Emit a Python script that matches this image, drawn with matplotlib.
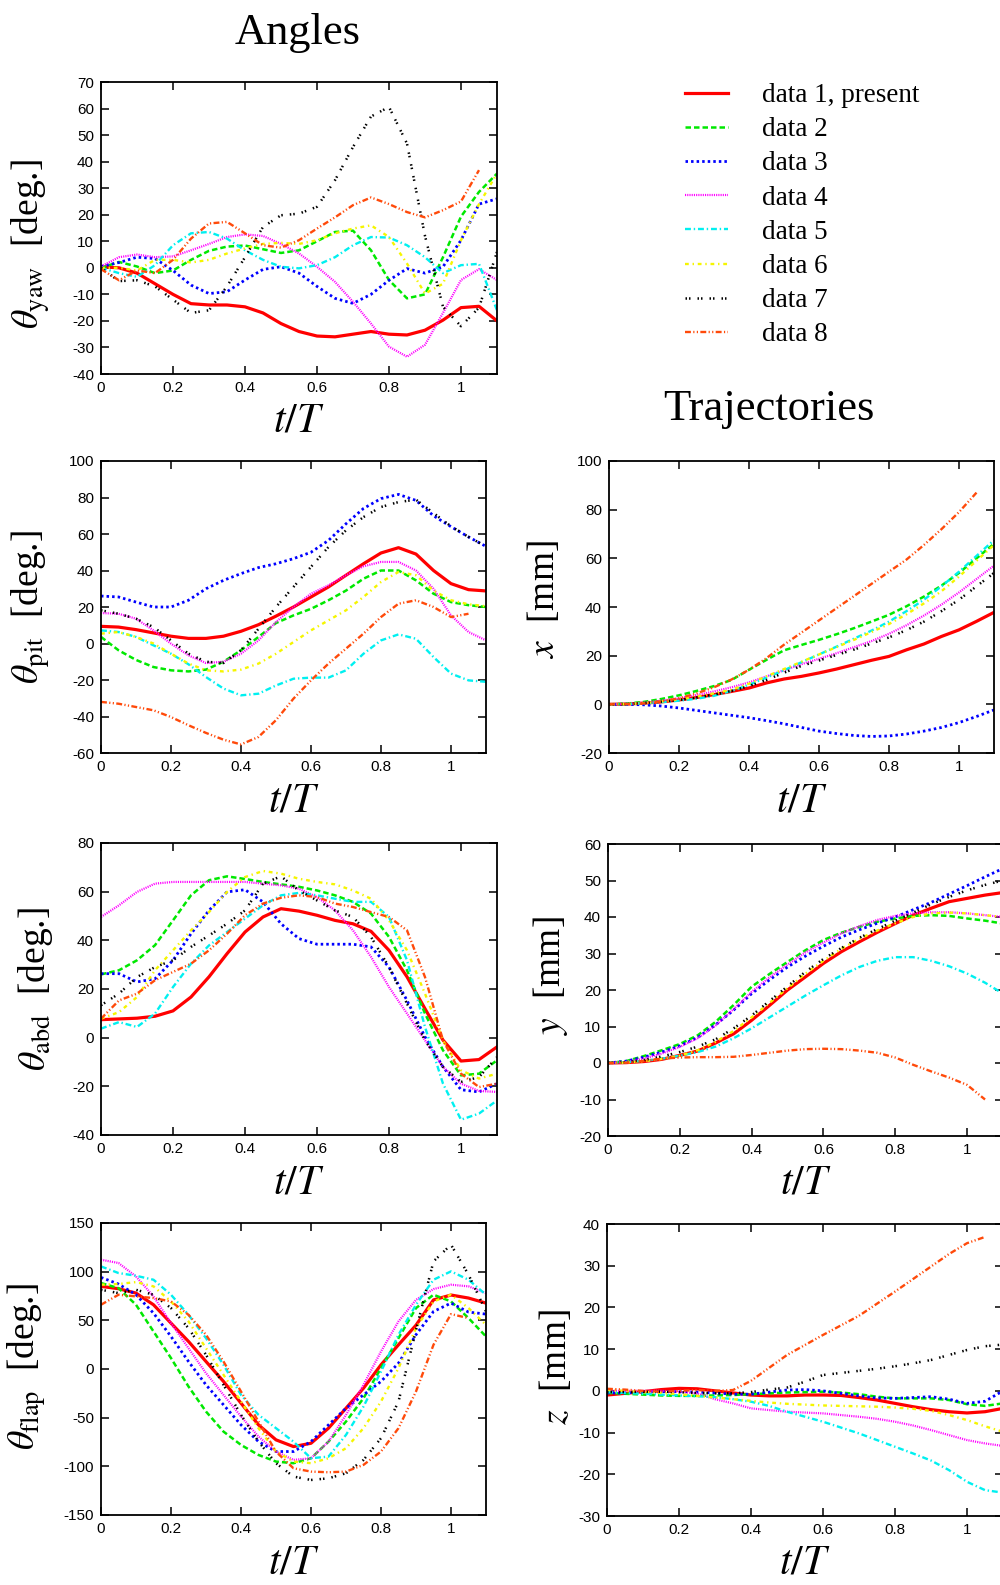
import matplotlib
matplotlib.use('Agg')
import matplotlib.pyplot as plt
from matplotlib.ticker import MultipleLocator, FuncFormatter

plt.rcParams['font.family'] = ['Liberation Sans', 'DejaVu Sans']
plt.rcParams['mathtext.fontset'] = 'stix'

# time axis t/T
t = [0, 0.05, 0.1, 0.15, 0.2, 0.25, 0.3, 0.35, 0.4, 0.45, 0.5, 0.55,
     0.6, 0.65, 0.7, 0.75, 0.8, 0.85, 0.9, 0.95, 1.0, 1.05, 1.1]

labels = ['data 1, present', 'data 2', 'data 3', 'data 4',
          'data 5', 'data 6', 'data 7', 'data 8']

# yaw angle [deg.]
yaw = [
    [0.4, 0, -2, -6, -10, -13.5, -14, -14, -14.7, -17, -21, -24, -25.7, -26, -25, -24, -25, -25.3, -23.5, -19.7, -15, -14.5, -20],
    [0, 2.2, 0.5, -2, -1, 3, 6.4, 8, 8.4, 7, 5.6, 6.6, 10, 13.5, 14, 6.6, -4.6, -11.5, -10, 4, 19.3, 28.6, 35.5],
    [0.5, 2, 4, 3.5, -1, -6.5, -9.7, -9, -4.6, -0.6, 0.4, -2, -7, -11.5, -13.4, -10, -4.7, -0.3, -2, 0.4, 10.4, 24, 26],
    [0.5, 4, 5, 4, 4.3, 6.6, 9, 11.6, 12.6, 12, 9, 5.4, 0.4, -5.3, -12.8, -21, -29.7, -33.5, -29, -17, -4.6, -0.5, -4.6],
    [0, -2, -3.4, 1, 8.5, 13, 13.5, 11, 6.6, 3, 0.4, -0.2, 1, 4, 8.5, 11.6, 11.4, 8.5, 4, -2, 1, 1.5, -16],
    [0, 0, -1, 3, 3, 2, 3, 5.4, 7.3, 9, 9.4, 9, 10.4, 13, 14.8, 16, 11.6, 1.6, -9.7, -6, 10.4, 24, 35.5],
    [0, -5, -4.7, -7, -12, -17, -16, -7, 4, 15.4, 19.8, 20.4, 23, 33, 45.5, 57, 60.6, 46.8, 12, -14.7, -22, -15, 6],
    [-0.5, -4.7, -1, -2, 3, 11, 16.7, 17.3, 13, 8.5, 7.6, 10.4, 14.8, 19, 23.6, 26.5, 24, 21, 19, 21.7, 25, 36.8],
]

# pitch angle [deg.]
pit = [
    [9.4, 9, 7.6, 5.8, 4, 2.8, 2.8, 4, 6.7, 10.3, 15, 20, 25.5, 31, 37.4, 43.7, 49.6, 52.5, 49, 40, 32.8, 29.5, 28.8],
    [3.6, -3.7, -9, -12.9, -14.7, -15.3, -14.3, -10, -3.7, 3.6, 11.2, 15.4, 19, 23.7, 29, 35.5, 40, 40, 34.6, 27.3, 22.7, 21, 20],
    [26, 25.5, 22.7, 20, 20, 23.7, 30, 34.6, 38.3, 41.6, 43.7, 46.5, 50, 56.5, 65.6, 74, 79.4, 81.7, 78.4, 70, 64, 58.4, 53.2],
    [16.7, 16.3, 13.6, 7.2, -0.1, -6.5, -10.7, -10, -5.6, 1.7, 11.8, 20, 27.3, 31.9, 37.4, 42.3, 44.7, 44.7, 40, 30, 15.4, 6.3, 1.7],
    [7.2, 6.3, 3.6, -1, -5.6, -11.4, -18.4, -24.7, -28.4, -27.5, -23, -19.3, -18.7, -18.7, -14.7, -5.6, 1.7, 5, 2.6, -7.4, -16.5, -20.2, -21],
    [5.4, 6.3, 3.6, 0, -5.6, -11, -14.7, -15.3, -14.3, -11, -5.6, 0.8, 7.2, 12.7, 18.2, 25.5, 33.7, 39.2, 37.4, 29, 23.7, 21.5, 20.4],
    [18.2, 16.3, 13.6, 9, 1.7, -5.6, -10, -10.7, -3.7, 8.1, 20, 31, 42, 52.9, 62, 69.3, 74.8, 77.5, 78.8, 71.5, 64.2, 58.4, 53.2],
    [-32, -33, -34.8, -36.6, -40.3, -44.8, -49, -52.7, -55.3, -51.2, -42, -30.2, -20.2, -11, -2.8, 5.4, 14.5, 21.8, 23.7, 20, 14.5, 16.3],
]

# abduction angle [deg.]
abd = [
    [7.4, 7.7, 8, 8.8, 11, 16.7, 25, 34.5, 43.4, 49.6, 53, 52, 50.3, 48.2, 46.8, 43.7, 35.9, 25, 11.9, -1, -9.6, -9, -3.8],
    [26, 27.7, 31.8, 38, 48.2, 58.5, 64.7, 66.3, 65.2, 64, 63, 62, 60.5, 58.5, 55.8, 51, 41.4, 27.7, 9.9, -5.2, -15.5, -14.8, -9.3],
    [26.3, 26.3, 22.9, 24.2, 31.8, 42.7, 52.3, 59.9, 60.8, 55.8, 46.8, 40.7, 38.4, 38.4, 38.4, 37.3, 29, 15.3, 0.3, -12, -21.4, -22.3, -18.9],
    [49.6, 54.4, 59.9, 63.3, 64, 64, 64, 64, 64, 63.3, 62.6, 61.2, 57.8, 52.3, 44.1, 33.2, 20.8, 9.9, -1.1, -12, -18.9, -21.9, -22.3],
    [3.7, 6.4, 4.4, 9.9, 20.8, 30.4, 37.9, 43.4, 48.9, 54.4, 58.5, 59.5, 58.5, 57.1, 55.8, 55.8, 49.6, 31.8, 4.4, -18.9, -33.7, -31.2, -25.8],
    [7.8, 10.5, 16.7, 27.7, 35.9, 44.1, 51.6, 59.9, 66, 68.5, 67.4, 65.3, 64, 63, 60.5, 57.1, 48.2, 35.9, 18.1, -1.1, -13.4, -16.8, -14.8],
    [13.3, 18.1, 24.9, 29, 31.8, 37.3, 42, 46.8, 52.3, 63.3, 66.3, 60.5, 56.4, 52.3, 49.6, 41.4, 29, 14, -1.1, -12, -18.2, -16.2, -8],
    [7.8, 15.3, 18.1, 23.6, 27, 30.4, 35.9, 42.7, 50.3, 55.1, 57.5, 58.5, 57.8, 55.1, 53.7, 51.6, 49.6, 44.1, 24.9, -1.1, -14.8, -20.3, -18.9],
]

# flapping angle [deg.]
flap = [
    [84.9, 82.5, 78, 66, 47.1, 28.3, 7.7, -12.8, -35.1, -57.4, -72.8, -79.7, -76.3, -60.8, -40.3, -19.7, 4.3, 24.9, 45, 71, 76, 72.9, 67.7],
    [88.3, 83.1, 66, 38.6, 11.2, -18, -43.7, -64.3, -78, -88.3, -95.1, -96.8, -91.7, -74.6, -54, -30, 0.9, 31.7, 62.6, 76.3, 69.4, 52.3, 33.4],
    [94.1, 87.3, 76.3, 57.4, 33.4, 7.7, -16.3, -36.8, -57.4, -74.6, -84.8, -84.8, -74.6, -57.4, -40.3, -26.6, -12.8, 6, 35.2, 59.1, 67.7, 58.5, 56.4],
    [112.3, 108.9, 95.1, 74.6, 47.1, 21.4, -4.3, -26.6, -48.8, -69.4, -84.8, -93.4, -91.7, -74.6, -47.1, -16.3, 18, 48.9, 71.1, 82.1, 86.6, 84.9, 78],
    [105.4, 98.6, 95.8, 91.7, 76.3, 55.7, 31.7, 4.3, -26.6, -47.1, -60.8, -74.6, -91.7, -90, -67.7, -38.6, -2.6, 35.2, 66, 91.7, 100.3, 91.7, 76.3],
    [86.6, 87.3, 89.3, 84.9, 69.4, 48.9, 21.4, -6, -33.4, -60.8, -84.8, -95.1, -96.8, -91.7, -81.4, -60.8, -33.4, 0.9, 42, 69.4, 76.3, 62.6, 45.4],
    [81.4, 78, 81.4, 76.3, 62.6, 42, 14.6, -16.3, -47.1, -74.6, -96.8, -110.5, -114, -112.3, -107.1, -93.4, -71.1, -33.4, 40, 110.6, 127.7, 96.9, 59.2],
    [66, 76.3, 74.6, 72.9, 69.4, 55.7, 35.2, 7.7, -23.1, -54, -85, -102, -105.4, -106.1, -105.4, -98.5, -84.8, -60.8, -23.1, 24.9, 56.4, 52.3],
]

# trajectories [mm]
traj_x = [
    [0, 0.1, 0.5, 1, 1.8, 2.8, 4, 5.3, 6.7, 8.8, 10.4, 11.5, 12.9, 14.5, 16.3, 18.1, 19.7, 22.4, 24.8, 27.9, 30.6, 34.1, 37.8],
    [0, 0.3, 1, 2.2, 3.7, 5.5, 7.5, 10, 14.2, 18.3, 22.2, 24.4, 26.5, 28.8, 31.3, 34, 36.8, 40.3, 44.3, 48.8, 54, 60, 66],
    [0, 0, -0.2, -0.7, -1.5, -2.5, -3.5, -4.5, -5.5, -6.7, -8, -9.5, -11, -12, -12.8, -13.2, -13, -12.2, -11, -9.5, -7.5, -5, -2.3],
    [0, 0.2, 0.7, 1.5, 2.5, 3.8, 5.3, 7, 9, 11.5, 14, 16.5, 18.7, 21, 23.5, 26, 29, 32.5, 36.5, 41, 46, 51.5, 57],
    [0, 0.1, 0.4, 0.9, 1.5, 2.3, 3.5, 5.5, 8, 11, 14, 17.3, 20.5, 23.7, 27, 30.3, 34, 38.3, 43, 48.5, 54.5, 61, 67.5],
    [0, 0.1, 0.5, 1.2, 2, 3.2, 4.5, 6, 8.5, 11.5, 14.5, 17.5, 20.5, 23.5, 26.5, 29.7, 33, 37, 41.5, 46.5, 52.5, 59, 65.5],
    [0, 0.1, 0.5, 1.1, 1.8, 2.8, 4, 5.5, 7.5, 10, 13, 15.8, 18, 20.3, 22.5, 25, 27.5, 30.5, 34, 38.3, 43, 48.5, 54],
    [0, 0.1, 0.4, 1.2, 2.5, 4.5, 7, 10.2, 14.2, 19, 24.5, 29.5, 34.5, 39.5, 44.5, 49.5, 54.5, 59.5, 65.5, 72, 79, 87],
]

traj_y = [
    [0, 0.1, 0.4, 1, 2.1, 3.3, 5.5, 8, 11.7, 15.8, 20, 23.6, 27.3, 30.5, 33.2, 35.8, 38.2, 40.5, 42.4, 44.2, 45.1, 46, 46.7],
    [0, 0.5, 1.9, 3.5, 5.2, 7.6, 11.3, 15.9, 20.9, 24.4, 27.7, 30.9, 33.7, 35.7, 37.3, 38.7, 39.6, 40.3, 40.5, 40.3, 39.6, 39, 38.2],
    [0, 0.5, 1.6, 3, 4.7, 7, 10.5, 14.5, 19, 22.8, 26.3, 29.3, 32, 34.5, 36.5, 38.3, 40, 42, 44, 46.3, 48.6, 51, 53.3],
    [0, 0.3, 1.2, 2.6, 4.4, 6.8, 10.3, 14.8, 19.5, 23.5, 27, 30.3, 33, 35.5, 37.5, 39.2, 40.3, 41, 41.3, 41.3, 41, 40.5, 40],
    [0, 0.2, 0.6, 1.2, 2, 3, 4.5, 6.8, 9.5, 12.5, 15.5, 18.5, 21.3, 24, 26.3, 28, 29, 29, 28, 26.5, 24.5, 22, 19],
    [0, 0.1, 0.5, 1.1, 2, 3.5, 5.8, 8.8, 12.5, 16.5, 20.5, 24.5, 28, 31.3, 34, 36.3, 38.3, 40, 41, 41.2, 41, 40.5, 40],
    [0, 0.2, 0.8, 1.8, 3, 4.5, 6.5, 9.5, 13, 17, 21, 25, 28.5, 31.5, 34.3, 36.7, 39, 41.2, 43.5, 45.5, 47.3, 48.8, 50],
    [0, 0.1, 0.6, 1.2, 1.5, 1.6, 1.6, 1.7, 2.2, 2.8, 3.4, 3.8, 3.9, 3.8, 3.4, 2.8, 1.5, -0.5, -2.3, -4, -6, -10],
]

traj_z = [
    [-1, -0.6, -0.2, 0.3, 0.6, 0.5, 0, -0.5, -1, -1.2, -1.2, -1, -1, -1.1, -1.6, -2.2, -3, -3.8, -4.5, -5, -5.3, -5, -4.2],
    [-0.5, -0.7, -0.9, -1.1, -1.2, -1.2, -1.1, -1, -0.8, -0.6, -0.4, -0.3, -0.2, -0.4, -0.8, -1.4, -1.8, -1.8, -1.8, -2.2, -3.2, -3.6, -3],
    [-0.5, -0.5, -0.3, -0.2, -0.2, -0.3, -0.5, -0.8, -0.8, -0.3, 0.2, 0.3, 0, -0.6, -1.2, -1.7, -1.8, -1.6, -1.4, -2, -3, -2.5, 0],
    [0, 0, 0, 0, -0.2, -0.6, -2, -3, -4.2, -4.6, -5, -5.2, -5.4, -5.8, -6.2, -6.7, -7.4, -8.3, -9.4, -10.6, -11.8, -12.6, -13.2],
    [-0.3, -0.5, -0.7, -0.9, -1.1, -1.3, -1.5, -2, -2.6, -3.6, -5, -6.2, -7.4, -8.8, -10.2, -11.8, -13.4, -15, -16.7, -19, -21.8, -23.8, -24.4],
    [0.2, 0, -0.2, -0.5, -0.8, -1.2, -1.6, -2, -2.4, -2.8, -3.1, -3.3, -3.5, -3.6, -3.7, -3.8, -4, -4.3, -4.8, -5.8, -7, -8.5, -9.8],
    [-0.3, -0.3, -0.2, -0.2, -0.3, -0.5, -0.6, -0.6, -0.3, 0.3, 0.8, 2.2, 3.8, 4.3, 4.8, 5.3, 5.9, 6.6, 7.4, 8.6, 9.8, 10.7, 11.1],
    [0.5, 0.3, 0, -0.2, 0, 0.2, 0, 0.2, 2.4, 5.5, 8.6, 11, 13.4, 15.7, 18, 20.9, 23.8, 26.8, 29.8, 32.8, 35.4, 36.9],
]

colors = ['#ff0000', '#00e800', '#0000ff', '#ff00ff', '#00f0f0', '#f5f500', '#000000', '#ff4a0a']
styles = ['-', (0, (2.2, 1.2)), (0, (0.9, 1.1)), (0, (0.5, 0.5)), (0, (2.5, 1.2, 0.6, 1.2)),
          (0, (1.6, 1.6, 0.6, 1.6)), (0, (0.6, 0.8, 0.6, 2.8)), (0, (2.5, 1, 0.5, 1, 0.5, 1))]
widths = [2.3, 1.8, 2.0, 1.6, 1.7, 1.7, 1.8, 1.7]

W, H = 1000, 1585
fig = plt.figure(figsize=(W / 100, H / 100), dpi=100)
serif = 'Liberation Serif'


def panel(box, series, ylim, ystep, ylabel, ylab_right, ylab_pos):
    l, r, top, b = box
    ax = fig.add_axes([l / W, 1 - b / H, (r - l) / W, (b - top) / H])
    for i, s in enumerate(series):
        ax.plot(t[:len(s)], s, color=colors[i], ls=styles[i], lw=widths[i], label=labels[i])
    ax.set_xlim(0, 1.1)
    ax.set_ylim(*ylim)
    ax.xaxis.set_major_locator(MultipleLocator(0.2))
    ax.yaxis.set_major_locator(MultipleLocator(ystep))
    ax.xaxis.set_major_formatter(FuncFormatter(lambda v, p: '%g' % round(v, 2)))
    ax.yaxis.set_major_formatter(FuncFormatter(lambda v, p: '%g' % round(v, 2)))
    ax.tick_params(direction='in', top=True, right=True, length=6, width=1.1,
                   labelsize=11, pad=5)
    for sp in ax.spines.values():
        sp.set_linewidth(1.3)
    ax.set_xlabel(r'$t/T$', fontsize=30)
    ax.xaxis.set_label_coords(0.5, -27 / (b - top))
    ax.set_ylabel(ylabel, fontsize=27, family=serif)
    ax.yaxis.set_label_coords((ylab_right - l) / (r - l), ylab_pos)
    return ax


ax_yaw = panel((101, 497, 82, 374), yaw, (-40, 70), 10, r'$\theta_{\rm yaw}$  [deg.]', 52, 0.445)
ax_pit = panel((101, 486, 461, 753), pit, (-60, 100), 20, r'$\theta_{\rm pit}$  [deg.]', 52, 0.5)
ax_abd = panel((101, 497, 843, 1135), abd, (-40, 80), 20, r'$\theta_{\rm abd}$  [deg.]', 55, 0.5)
ax_flap = panel((101, 486, 1223, 1515), flap, (-150, 150), 50, r'$\theta_{\rm flap}$  [deg.]', 48, 0.51)
ax_x = panel((609, 994, 461, 753), traj_x, (-20, 100), 20, r'$x$  [mm]', 562, 0.527)
ax_y = panel((608, 1003, 844, 1136), traj_y, (-20, 60), 10, r'$y$  [mm]', 570, 0.55)
ax_z = panel((607, 1003, 1224, 1516), traj_z, (-30, 40), 10, r'$z$  [mm]', 574, 0.51)

fig.text(298 / W, 1 - 33 / H, 'Angles', ha='center', va='center', fontsize=32, family=serif)
fig.text(769 / W, 1 - 409 / H, 'Trajectories', ha='center', va='center', fontsize=32, family=serif)

handles, labs = ax_yaw.get_legend_handles_labels()
fig.legend(handles, labs, loc='upper left', bbox_to_anchor=(685 / W, 1 - 83 / H),
           frameon=False, prop={'family': serif, 'size': 19.5},
           handlelength=1.6, handletextpad=1.25, labelspacing=0.34,
           borderaxespad=0, borderpad=0)

fig.savefig('out.png', dpi=100)
